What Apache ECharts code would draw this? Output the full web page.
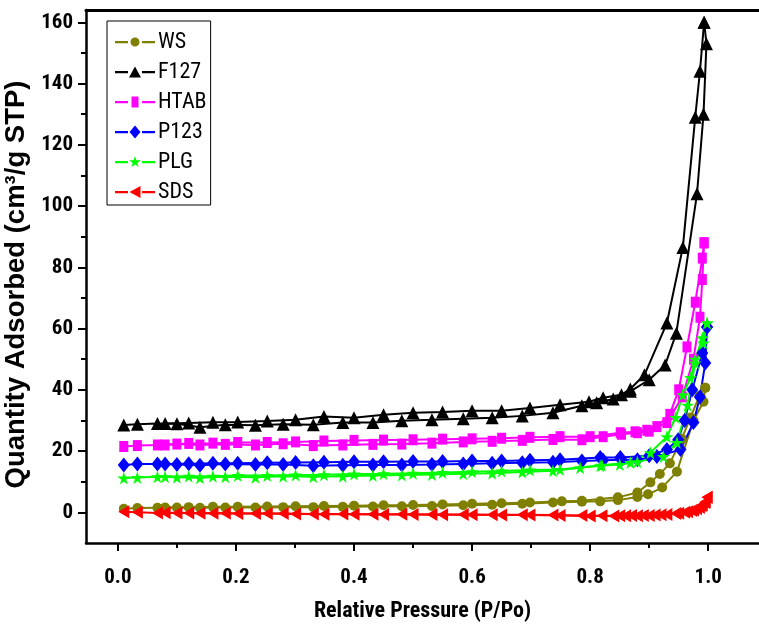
<!DOCTYPE html>
<html>
<head>
<meta charset="utf-8">
<script src="https://cdn.jsdelivr.net/npm/echarts@6/dist/echarts.min.js"></script>
<style>
  html, body { margin: 0; padding: 0; background: #fff; }
  #chart { width: 759px; height: 635px; }
</style>
</head>
<body>
<div id="chart"></div>
<script>
// N2 adsorption/desorption isotherms: [P/Po, quantity adsorbed (cm3/g STP)]
const sampleNames = ['WS', 'F127', 'HTAB', 'P123', 'PLG', 'SDS'];

const wsAds = [[0.01,1.2],[0.033,1.4],[0.067,1.5],[0.1,1.6],[0.139,1.5],[0.182,1.6],[0.233,1.6],[0.28,1.7],[0.331,1.7],[0.381,1.8],[0.432,1.9],[0.481,2.0],[0.532,2.1],[0.585,2.3],[0.634,2.5],[0.685,2.8],[0.737,3.2],[0.786,3.5],[0.817,3.6],[0.847,4.0],[0.88,5.0],[0.898,5.9],[0.922,8.1],[0.947,13.3],[0.975,30],[0.992,36.1],[0.995,40.7]];
const wsDes = [[0.995,40.7],[0.985,38],[0.97,31],[0.955,24],[0.935,16],[0.918,12.5],[0.902,9.8],[0.88,6.5],[0.847,4.9],[0.786,3.8],[0.752,3.6],[0.698,3.2],[0.65,3.0],[0.6,2.8],[0.55,2.6],[0.5,2.4],[0.45,2.3],[0.4,2.2],[0.349,2.1],[0.301,2.0],[0.253,1.9],[0.203,1.8],[0.161,1.8],[0.12,1.7],[0.08,1.6]];

const f127Ads = [[0.01,28.5],[0.033,28.8],[0.067,29.0],[0.1,28.9],[0.139,27.8],[0.182,28.6],[0.233,28.4],[0.28,28.8],[0.331,28.6],[0.381,29.3],[0.432,29.3],[0.481,29.9],[0.532,30.2],[0.585,30.6],[0.634,30.9],[0.685,31.5],[0.737,32.5],[0.786,34.8],[0.811,35.8],[0.839,37.0],[0.868,39.5],[0.9,43.3],[0.927,48.1],[0.946,58.5],[0.981,104],[0.992,130],[0.997,153],[0.993,160]];
const f127Des = [[0.993,160],[0.986,144],[0.978,129],[0.957,86.5],[0.93,61.8],[0.892,44.9],[0.868,40.3],[0.853,38.4],[0.822,37.4],[0.798,36.1],[0.749,35.1],[0.698,34.1],[0.65,33.2],[0.6,33.2],[0.55,32.8],[0.5,32.5],[0.45,31.9],[0.4,30.9],[0.349,31.3],[0.301,30.2],[0.253,29.8],[0.203,29.5],[0.161,29.4],[0.12,29.2],[0.08,29.0]];

const htabAds = [[0.01,21.5],[0.033,21.8],[0.067,22.0],[0.1,22.3],[0.139,22.0],[0.182,22.2],[0.233,22.0],[0.28,22.4],[0.331,21.8],[0.381,22.0],[0.432,22.2],[0.481,22.3],[0.532,22.6],[0.585,23.0],[0.634,23.2],[0.685,23.5],[0.737,23.8],[0.786,23.7],[0.822,24.7],[0.853,25.5],[0.88,26.0],[0.9,26.5],[0.93,29.3],[0.956,37.7],[0.975,50],[0.986,63.7],[0.99,76],[0.993,88]];
const htabDes = [[0.993,88],[0.99,83],[0.978,68.6],[0.964,54],[0.95,40],[0.935,32],[0.913,28],[0.896,26.8],[0.876,26.3],[0.851,26],[0.8,24.7],[0.749,24.7],[0.698,24.5],[0.65,24.2],[0.6,24.0],[0.55,23.9],[0.5,23.7],[0.45,23.6],[0.4,23.5],[0.349,23.3],[0.301,23.0],[0.253,22.8],[0.203,22.8],[0.161,22.6],[0.12,22.5],[0.08,22.0]];

const p123Ads = [[0.01,15.5],[0.033,15.8],[0.067,15.8],[0.1,15.6],[0.139,15.4],[0.182,15.8],[0.233,15.6],[0.28,15.6],[0.331,15.2],[0.381,15.4],[0.432,15.5],[0.481,15.5],[0.532,15.6],[0.585,15.8],[0.634,16.0],[0.685,16.2],[0.737,16.4],[0.786,16.8],[0.822,17.0],[0.853,17.2],[0.88,17.2],[0.913,18.2],[0.953,20.5],[0.975,29.3],[0.986,37.7],[0.995,48.8],[0.998,60.5]];
const p123Des = [[0.998,60.5],[0.99,52],[0.973,40],[0.96,30],[0.949,23.7],[0.93,20.5],[0.9,18.5],[0.851,17.9],[0.817,17.9],[0.749,17.2],[0.698,17.0],[0.65,16.8],[0.6,16.8],[0.55,16.6],[0.5,16.6],[0.45,16.5],[0.4,16.5],[0.349,16.4],[0.301,16.3],[0.253,16.2],[0.203,16.0],[0.161,16.0],[0.12,15.9],[0.08,15.8]];

const plgAds = [[0.01,11.2],[0.033,11.4],[0.067,11.6],[0.1,11.5],[0.139,11.3],[0.182,11.6],[0.233,11.5],[0.28,11.8],[0.331,11.6],[0.381,11.8],[0.432,12.0],[0.481,12.2],[0.532,12.4],[0.585,12.6],[0.634,12.8],[0.685,13.2],[0.737,13.6],[0.783,14.6],[0.817,15.2],[0.85,15.6],[0.88,16.5],[0.924,18.2],[0.947,22.8],[0.965,35],[0.978,48.8],[0.992,55.3],[0.998,61.8]];
const plgDes = [[0.998,61.8],[0.99,57],[0.978,50],[0.97,44],[0.957,38.4],[0.945,31],[0.93,24.7],[0.902,19.5],[0.868,16.3],[0.82,15.4],[0.749,14.0],[0.698,13.8],[0.65,13.5],[0.6,13.3],[0.55,13.0],[0.5,12.8],[0.45,12.6],[0.4,12.5],[0.349,12.3],[0.301,12.2],[0.253,12.0],[0.203,12.0],[0.161,11.8],[0.12,11.8],[0.08,11.6]];

const sdsAds = [[0.01,0.2],[0.033,0],[0.067,-0.2],[0.1,-0.2],[0.139,-0.3],[0.182,-0.3],[0.233,-0.4],[0.28,-0.4],[0.331,-0.5],[0.381,-0.5],[0.432,-0.6],[0.481,-0.6],[0.532,-0.7],[0.585,-0.7],[0.634,-0.8],[0.685,-0.8],[0.737,-0.9],[0.786,-1.0],[0.82,-1.1],[0.85,-1.1],[0.87,-1.0],[0.89,-1.0],[0.91,-0.9],[0.93,-0.7],[0.95,-0.3],[0.965,0.2],[0.975,0.8],[0.985,1.6],[0.99,2.5],[0.995,3.5],[0.998,4.9]];
const sdsDes = [[0.998,4.9],[0.994,3.2],[0.988,2.2],[0.98,1.2],[0.972,0.6],[0.96,0],[0.945,-0.4],[0.92,-0.8],[0.9,-1.0],[0.88,-1.1],[0.86,-1.1],[0.84,-1.2],[0.8,-1.2],[0.749,-1.0],[0.698,-0.9],[0.65,-0.9],[0.6,-0.8],[0.55,-0.8],[0.5,-0.7],[0.45,-0.7],[0.4,-0.6],[0.349,-0.6],[0.301,-0.5],[0.253,-0.4],[0.203,-0.4],[0.161,-0.3],[0.12,-0.2],[0.08,-0.1]];

// Axis ticks
const xMajorTicks = [0, 0.2, 0.4, 0.6, 0.8, 1.0];
const xMinorTicks = [0.1, 0.3, 0.5, 0.7, 0.9];
const yMajorTicks = [0, 20, 40, 60, 80, 100, 120, 140, 160];
const yMinorTicks = [10, 30, 50, 70, 90, 110, 130, 150];

const NARROW = "'Roboto Condensed', 'Liberation Sans', Arial, sans-serif";
const WIDE = "'Liberation Sans', Arial, sans-serif";

const STAR = 'path://M50,0 L61,35 L98,35 L68,57 L79,91 L50,70 L21,91 L32,57 L2,35 L39,35 Z';
const LEFT_TRI = 'path://M0,50 L100,0 L100,100 Z';

// Legend keys: short line, gap, marker, gap, short line (40 x 14 box)
const KEY_FRAME = 'M0,0 M40,14 ';
const KEY_LINES = 'M0,6 L13,6 L13,8.2 L0,8.2 Z M27,6 L40,6 L40,8.2 L27,8.2 Z ';
const legendIcons = {
  WS:   'path://' + KEY_FRAME + KEY_LINES + 'M15.5,7 A4.5,4.5 0 1,1 24.5,7 A4.5,4.5 0 1,1 15.5,7 Z',
  F127: 'path://' + KEY_FRAME + KEY_LINES + 'M20,1.5 L26,12.5 L14,12.5 Z',
  HTAB: 'path://' + KEY_FRAME + KEY_LINES + 'M16.5,1.5 L23.5,1.5 L23.5,12.5 L16.5,12.5 Z',
  P123: 'path://' + KEY_FRAME + KEY_LINES + 'M20,0.5 L25.5,7 L20,13.5 L14.5,7 Z',
  PLG:  'path://' + KEY_FRAME + KEY_LINES + 'M20,1 L21.4,5.2 L26,5.2 L22.3,7.9 L23.7,12 L20,9.5 L16.3,12 L17.7,7.9 L14,5.2 L18.6,5.2 Z',
  SDS:  'path://' + KEY_FRAME + KEY_LINES + 'M14.5,7 L25.5,1 L25.5,13 Z'
};

const styles = {
  WS:   { color: '#808000', symbol: 'circle',   size: 10 },
  F127: { color: '#000000', symbol: 'triangle', size: 13 },
  HTAB: { color: '#ff00ff', symbol: 'rect',     size: [9, 11] },
  P123: { color: '#0000ff', symbol: 'diamond',  size: [12, 15] },
  PLG:  { color: '#00ff00', symbol: STAR,       size: 13 },
  SDS:  { color: '#ff0000', symbol: LEFT_TRI,   size: [11, 13] }
};

const branches = {
  WS: [wsAds, wsDes],
  F127: [f127Ads, f127Des],
  HTAB: [htabAds, htabDes],
  P123: [p123Ads, p123Des],
  PLG: [plgAds, plgDes],
  SDS: [sdsAds, sdsDes]
};

const series = [];
sampleNames.forEach(function (name) {
  const st = styles[name];
  branches[name].forEach(function (data) {
    series.push({
      name: name,
      type: 'line',
      xAxisIndex: 0,
      yAxisIndex: 0,
      data: data,
      symbol: st.symbol,
      symbolSize: st.size,
      showAllSymbol: true,
      lineStyle: { color: st.color, width: 2 },
      itemStyle: { color: st.color },
      animation: false
    });
  });
});

const X_MIN = -0.054, X_MAX = 1.086;
const Y_MIN = -10, Y_MAX = 164;

const chart = echarts.init(document.getElementById('chart'));
chart.setOption({
  animation: false,
  backgroundColor: '#ffffff',
  grid: { left: 86, top: 10, right: 0, bottom: 92, outerBoundsMode: 'none', containLabel: false },
  legend: {
    data: sampleNames.map(function (n) { return { name: n, icon: legendIcons[n] }; }),
    orient: 'vertical',
    left: 107, top: 21,
    padding: [10, 4, 2, 8],
    itemGap: 8,
    itemWidth: 40,
    itemHeight: 14,
    borderColor: '#000',
    borderWidth: 1,
    borderRadius: 0,
    backgroundColor: '#fff',
    textStyle: { fontFamily: NARROW, fontSize: 22, color: '#000', padding: [0, 0, 0, -2] }
  },
  xAxis: [{
    type: 'value',
    min: X_MIN, max: X_MAX,
    name: 'Relative Pressure (P/Po)',
    nameLocation: 'middle',
    nameGap: 57,
    nameTextStyle: { fontFamily: NARROW, fontWeight: 'bold', fontSize: 22, color: '#000' },
    axisLine: { show: true, onZero: false, lineStyle: { color: '#000', width: 2.5 } },
    axisTick: { show: true, inside: false, length: 8, customValues: xMajorTicks, lineStyle: { color: '#000', width: 2 } },
    axisLabel: {
      show: true, customValues: xMajorTicks, margin: 24,
      fontFamily: NARROW, fontWeight: 'bold', fontSize: 21, color: '#000',
      formatter: function (v) { return v.toFixed(1); }
    },
    splitLine: { show: false }
  }, {
    type: 'value',
    min: X_MIN, max: X_MAX,
    position: 'bottom',
    axisLine: { show: false, onZero: false },
    axisTick: { show: true, inside: false, length: 5, customValues: xMinorTicks, lineStyle: { color: '#000', width: 2 } },
    axisLabel: { show: false },
    splitLine: { show: false }
  }, {
    type: 'value',
    min: X_MIN, max: X_MAX,
    position: 'top',
    axisLine: { show: true, onZero: false, lineStyle: { color: '#000', width: 3 } },
    axisTick: { show: false },
    axisLabel: { show: false },
    splitLine: { show: false }
  }],
  yAxis: [{
    type: 'value',
    min: Y_MIN, max: Y_MAX,
    name: 'Quantity Adsorbed (cm\u00b3/g STP)',
    nameLocation: 'middle',
    nameGap: 43,
    nameTextStyle: { fontFamily: WIDE, fontWeight: 'bold', fontSize: 27.5, color: '#000', padding: [0, 16, 0, 0] },
    axisLine: { show: true, onZero: false, lineStyle: { color: '#000', width: 2.5 } },
    axisTick: { show: true, inside: false, length: 8, customValues: yMajorTicks, lineStyle: { color: '#000', width: 2 } },
    axisLabel: {
      show: true, customValues: yMajorTicks, margin: 13,
      fontFamily: NARROW, fontWeight: 'bold', fontSize: 21, color: '#000'
    },
    splitLine: { show: false }
  }, {
    type: 'value',
    min: Y_MIN, max: Y_MAX,
    position: 'left',
    axisLine: { show: false, onZero: false },
    axisTick: { show: true, inside: false, length: 5, customValues: yMinorTicks, lineStyle: { color: '#000', width: 2 } },
    axisLabel: { show: false },
    splitLine: { show: false }
  }],
  series: series
});
</script>
</body>
</html>
